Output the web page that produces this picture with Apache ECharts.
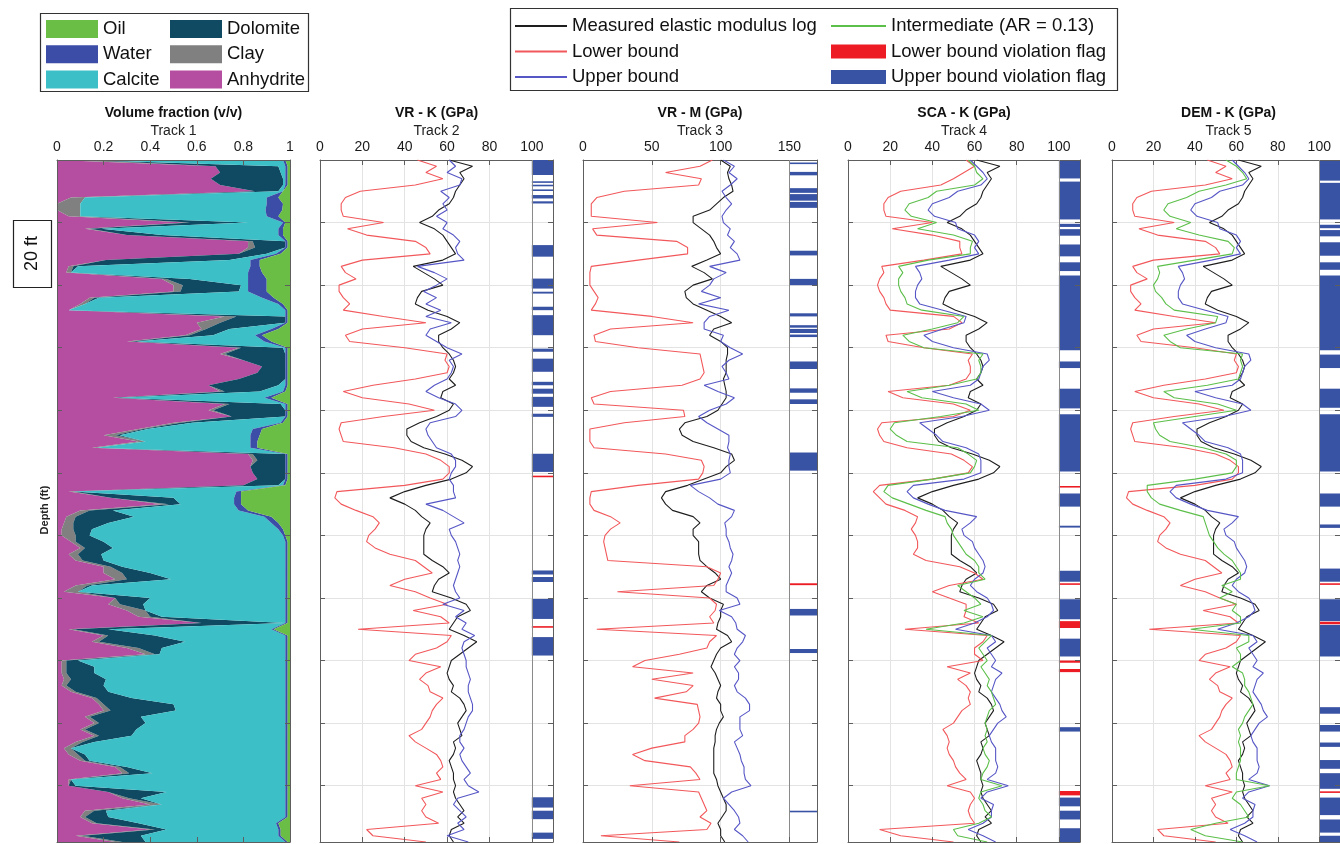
<!DOCTYPE html>
<html>
<head>
<meta charset="utf-8">
<title>Elastic modulus bounds – well log tracks</title>
<script src="https://cdn.jsdelivr.net/npm/echarts@6.0.0/dist/echarts.min.js"></script>
<style>
  html, body { margin: 0; padding: 0; background: #ffffff; }
  #chart { width: 1340px; height: 844px; }
</style>
</head>
<body>
<div id="chart"></div>
<script>
// ---------------------------------------------------------------------------
// Depth samples (ft below the top of the logged interval), every 2 ft
// ---------------------------------------------------------------------------
const depths = [
  0, 2, 4, 6, 8, 10, 12, 14, 16, 18,
  20, 22, 24, 26, 28, 30, 32, 34, 36, 38,
  40, 42, 44, 46, 48, 50, 52, 54, 56, 58,
  60, 62, 64, 66, 68, 70, 72, 74, 76, 78,
  80, 82, 84, 86, 88, 90, 92, 94, 96, 98,
  100, 102, 104, 106, 108, 110, 112, 114, 116, 118,
  120, 122, 124, 126, 128, 130, 132, 134, 136, 138,
  140, 142, 144, 146, 148, 150, 152, 154, 156, 158,
  160, 162, 164, 166, 168, 170, 172, 174, 176, 178,
  180, 182, 184, 186, 188, 190, 192, 194, 196, 198,
  200, 202, 204, 206, 208, 210, 212, 214, 216, 218
];

// ---------------------------------------------------------------------------
// Track 1 – volume fractions (v/v)
// ---------------------------------------------------------------------------
const anhydrite = [
  0.00, 0.68, 0.70, 0.66, 0.70, 0.85, 0.06, 0.00, 0.00, 0.05,
  0.55, 0.12, 0.30, 0.82, 0.82, 0.78, 0.21, 0.05, 0.04, 0.45,
  0.50, 0.50, 0.14, 0.10, 0.05, 0.72, 0.60, 0.62, 0.55, 0.30,
  0.78, 0.70, 0.80, 0.88, 0.86, 0.78, 0.65, 0.70, 0.24, 0.72,
  0.65, 0.75, 0.50, 0.35, 0.20, 0.35, 0.15, 0.82, 0.84, 0.83,
  0.84, 0.86, 0.80, 0.05, 0.23, 0.45, 0.10, 0.04, 0.03, 0.02,
  0.02, 0.06, 0.10, 0.05, 0.08, 0.20, 0.20, 0.25, 0.08, 0.03,
  0.25, 0.22, 0.30, 0.35, 0.62, 0.05, 0.20, 0.15, 0.30, 0.38,
  0.02, 0.02, 0.02, 0.03, 0.02, 0.06, 0.15, 0.18, 0.20, 0.12,
  0.16, 0.10, 0.16, 0.08, 0.03, 0.05, 0.10, 0.25, 0.28, 0.05,
  0.05, 0.22, 0.28, 0.40, 0.12, 0.10, 0.15, 0.40, 0.08, 0.25
];
const clay = [
  0.12, 0.00, 0.00, 0.00, 0.00, 0.00, 0.06, 0.10, 0.10, 0.05,
  0.02, 0.02, 0.00, 0.02, 0.03, 0.00, 0.00, 0.02, 0.02, 0.02,
  0.04, 0.03, 0.02, 0.02, 0.00, 0.05, 0.10, 0.02, 0.02, 0.02,
  0.01, 0.02, 0.00, 0.00, 0.00, 0.00, 0.00, 0.02, 0.01, 0.02,
  0.02, 0.00, 0.03, 0.02, 0.05, 0.03, 0.02, 0.02, 0.02, 0.00,
  0.00, 0.00, 0.00, 0.02, 0.00, 0.03, 0.04, 0.04, 0.04, 0.05,
  0.06, 0.02, 0.02, 0.04, 0.03, 0.03, 0.08, 0.05, 0.05, 0.06,
  0.00, 0.05, 0.08, 0.05, 0.00, 0.02, 0.02, 0.03, 0.05, 0.04,
  0.02, 0.02, 0.02, 0.03, 0.02, 0.02, 0.02, 0.02, 0.03, 0.02,
  0.02, 0.02, 0.02, 0.03, 0.03, 0.04, 0.02, 0.02, 0.03, 0.01,
  0.00, 0.00, 0.03, 0.05, 0.04, 0.02, 0.02, 0.02, 0.03, 0.03
];
const dolomite = [
  0.00, 0.27, 0.26, 0.31, 0.27, 0.10, 0.00, 0.00, 0.00, 0.00,
  0.25, 0.05, 0.15, 0.14, 0.13, 0.12, 0.53, 0.02, 0.00, 0.10,
  0.25, 0.25, 0.02, 0.00, 0.00, 0.21, 0.28, 0.10, 0.10, 0.02,
  0.18, 0.26, 0.18, 0.10, 0.12, 0.20, 0.30, 0.15, 0.02, 0.22,
  0.31, 0.23, 0.05, 0.02, 0.02, 0.00, 0.00, 0.14, 0.12, 0.15,
  0.14, 0.12, 0.15, 0.00, 0.27, 0.05, 0.10, 0.25, 0.15, 0.08,
  0.06, 0.12, 0.12, 0.10, 0.09, 0.05, 0.12, 0.19, 0.02, 0.00,
  0.15, 0.10, 0.00, 0.05, 0.36, 0.15, 0.20, 0.37, 0.10, 0.02,
  0.05, 0.12, 0.12, 0.15, 0.16, 0.14, 0.15, 0.30, 0.28, 0.22,
  0.20, 0.22, 0.14, 0.05, 0.00, 0.03, 0.02, 0.03, 0.10, 0.00,
  0.03, 0.25, 0.05, 0.00, 0.05, 0.10, 0.18, 0.05, 0.25, 0.10
];
const calcite = [
  0.85, 0.03, 0.02, 0.01, 0.01, 0.02, 0.78, 0.80, 0.795, 0.80,
  0.15, 0.76, 0.50, 0.00, 0.00, 0.04, 0.09, 0.74, 0.76, 0.25,
  0.03, 0.04, 0.70, 0.83, 0.93, 0.00, 0.00, 0.18, 0.18, 0.55,
  0.01, 0.00, 0.00, 0.00, 0.00, 0.00, 0.03, 0.10, 0.62, 0.02,
  0.00, 0.00, 0.38, 0.45, 0.56, 0.45, 0.66, 0.00, 0.00, 0.00,
  0.00, 0.00, 0.02, 0.70, 0.26, 0.23, 0.54, 0.56, 0.70, 0.80,
  0.83, 0.78, 0.74, 0.79, 0.78, 0.70, 0.58, 0.49, 0.83, 0.89,
  0.58, 0.61, 0.60, 0.53, 0.00, 0.70, 0.56, 0.43, 0.53, 0.54,
  0.89, 0.82, 0.82, 0.77, 0.78, 0.76, 0.66, 0.48, 0.47, 0.62,
  0.60, 0.64, 0.66, 0.82, 0.92, 0.86, 0.84, 0.68, 0.57, 0.92,
  0.90, 0.51, 0.62, 0.53, 0.77, 0.76, 0.59, 0.48, 0.59, 0.60
];
const water = [
  0.01, 0.01, 0.01, 0.01, 0.01, 0.00, 0.05, 0.07, 0.072, 0.05,
  0.01, 0.02, 0.02, 0.01, 0.01, 0.02, 0.04, 0.04, 0.06, 0.08,
  0.08, 0.08, 0.05, 0.02, 0.01, 0.01, 0.01, 0.03, 0.03, 0.03,
  0.01, 0.01, 0.01, 0.01, 0.01, 0.01, 0.01, 0.01, 0.03, 0.01,
  0.01, 0.01, 0.01, 0.04, 0.04, 0.03, 0.03, 0.01, 0.01, 0.01,
  0.01, 0.01, 0.01, 0.02, 0.03, 0.03, 0.04, 0.03, 0.03, 0.02,
  0.01, 0.01, 0.01, 0.01, 0.01, 0.01, 0.01, 0.01, 0.01, 0.01,
  0.01, 0.01, 0.01, 0.01, 0.01, 0.01, 0.01, 0.01, 0.01, 0.01,
  0.01, 0.01, 0.01, 0.01, 0.01, 0.01, 0.01, 0.01, 0.01, 0.01,
  0.01, 0.01, 0.01, 0.01, 0.01, 0.01, 0.01, 0.01, 0.01, 0.01,
  0.01, 0.01, 0.01, 0.01, 0.01, 0.01, 0.01, 0.01, 0.01, 0.01
];
const oil = [
  0.02, 0.01, 0.01, 0.01, 0.01, 0.03, 0.05, 0.03, 0.033, 0.05,
  0.02, 0.03, 0.03, 0.01, 0.01, 0.04, 0.13, 0.13, 0.12, 0.10,
  0.10, 0.10, 0.07, 0.03, 0.01, 0.01, 0.01, 0.05, 0.12, 0.08,
  0.01, 0.01, 0.01, 0.01, 0.01, 0.01, 0.01, 0.02, 0.08, 0.01,
  0.01, 0.01, 0.03, 0.12, 0.13, 0.14, 0.14, 0.01, 0.01, 0.01,
  0.01, 0.01, 0.02, 0.21, 0.21, 0.21, 0.18, 0.08, 0.05, 0.03,
  0.02, 0.01, 0.01, 0.01, 0.01, 0.01, 0.01, 0.01, 0.01, 0.01,
  0.01, 0.01, 0.01, 0.01, 0.01, 0.07, 0.01, 0.01, 0.01, 0.01,
  0.01, 0.01, 0.01, 0.01, 0.01, 0.01, 0.01, 0.01, 0.01, 0.01,
  0.01, 0.01, 0.01, 0.01, 0.01, 0.01, 0.01, 0.01, 0.01, 0.01,
  0.01, 0.01, 0.01, 0.01, 0.01, 0.01, 0.05, 0.04, 0.04, 0.01
];

// ---------------------------------------------------------------------------
// Bulk modulus K (GPa)
// ---------------------------------------------------------------------------
const kMeasured = [
  61, 72, 66, 68, 66, 64, 63, 61, 56, 53,
  47, 54, 58, 60, 62, 64, 58, 44, 49, 54,
  58, 48, 46, 45, 51, 60, 66, 62, 56, 56,
  58, 61, 63, 64, 63, 61, 64, 58, 57, 63,
  61, 55, 47, 41, 41, 43, 49, 59, 67, 72,
  69, 62, 50, 40, 33, 40, 45, 48, 52, 50,
  49, 49, 49, 49, 53, 58, 61, 56, 54, 53,
  62, 69, 71, 65, 63, 61, 68, 74, 70, 66,
  62, 61, 60, 61, 63, 62, 66, 68, 69, 67,
  65, 66, 67, 63, 64, 63, 61, 62, 63, 63,
  64, 63, 64, 66, 68, 65, 68, 62, 61, 63
];
// Voigt-Reuss lower bound (Tracks 2 and 5)
const kReuss = [
  46, 55, 50, 58, 45, 19, 12, 10, 10, 11,
  30, 13, 22, 45, 50, 52, 20, 10, 12, 17,
  9, 9, 11, 14, 11, 30, 50, 20, 12, 14,
  40, 60, 59, 61, 60, 45, 25, 11, 20, 42,
  54, 30, 10, 9, 10, 11, 35, 50, 57, 61,
  61, 58, 40, 8, 7, 10, 17, 25, 28, 26,
  23, 22, 26, 33, 45, 49, 53, 40, 33, 45,
  52, 60, 44, 57, 61, 18, 62, 60, 55, 45,
  42, 57, 50, 47, 51, 52, 58, 55, 53, 52,
  50, 48, 42, 45, 50, 55, 57, 58, 55, 57,
  45, 58, 48, 50, 48, 50, 56, 22, 25, 50
];
// Voigt-Reuss upper bound (Track 2)
const kVoigt = [
  61, 64, 60, 67, 66, 57, 61, 58, 60, 55,
  60, 58, 63, 66, 64, 65, 68, 46, 54, 60,
  55, 49, 55, 50, 57, 50, 62, 52, 50, 55,
  60, 67, 61, 63, 62, 60, 54, 50, 56, 64,
  67, 64, 52, 50, 51, 53, 55, 62, 64, 64,
  62, 61, 63, 63, 64, 50, 58, 63, 68, 61,
  62, 64, 65, 66, 65, 66, 65, 64, 63, 64,
  66, 58, 68, 64, 69, 67, 73, 68, 67, 68,
  69, 69, 70, 71, 70, 70, 71, 72, 72, 70,
  69, 68, 66, 66, 68, 66, 67, 69, 71, 68,
  70, 75, 65, 63, 66, 69, 65, 68, 60, 70
];
// Lower bound used with the SCA model (Track 4)
const kLowerSCA = [
  56, 60, 55, 50, 44, 25, 19, 17, 17, 18,
  40, 21, 40, 53, 53, 54, 36, 16, 17, 15,
  14, 15, 17, 18, 20, 50, 54, 48, 18, 19,
  36, 59, 57, 58, 58, 56, 48, 19, 26, 50,
  58, 50, 16, 14, 15, 17, 28, 49, 55, 59,
  57, 40, 15, 12, 15, 18, 27, 33, 32, 30,
  32, 33, 33, 31, 37, 53, 60, 64, 48, 40,
  48, 56, 56, 55, 62, 27, 66, 64, 60, 60,
  64, 47, 58, 52, 56, 58, 57, 58, 54, 52,
  50, 45, 47, 48, 47, 48, 50, 51, 53, 56,
  47, 58, 60, 58, 57, 58, 60, 15, 25, 50
];
// Upper bound used with the SCA and DEM models (Tracks 4 and 5)
const kUpperInclusion = [
  58, 61, 64, 66, 63, 52, 48, 40, 38, 41,
  51, 52, 60, 62, 60, 62, 48, 32, 34, 35,
  33, 32, 32, 34, 45, 56, 55, 45, 36, 40,
  50, 66, 67, 64, 63, 62, 58, 40, 50, 63,
  67, 54, 34, 38, 42, 45, 56, 62, 63, 63,
  63, 55, 31, 28, 31, 38, 46, 61, 58, 54,
  55, 59, 60, 62, 64, 65, 64, 60, 58, 61,
  66, 68, 69, 66, 60, 51, 68, 70, 66, 68,
  70, 68, 73, 70, 69, 68, 70, 72, 73, 75,
  71, 69, 67, 68, 70, 70, 70, 71, 70, 66,
  76, 66, 63, 69, 68, 68, 64, 57, 64, 70
];
// Intermediate (AR = 0.13) predictions
const kSCA = [
  57, 60, 61, 64, 60, 42, 38, 29, 27, 30,
  42, 33, 50, 59, 58, 58, 38, 24, 26, 24,
  24, 25, 27, 28, 35, 55, 52, 40, 26, 29,
  36, 64, 62, 63, 63, 61, 48, 28, 35, 56,
  62, 44, 22, 20, 23, 28, 52, 57, 61, 60,
  58, 40, 19, 17, 21, 29, 37, 46, 47, 49,
  50, 52, 54, 56, 60, 62, 62, 65, 52, 56,
  60, 63, 55, 64, 55, 37, 68, 65, 62, 64,
  66, 63, 65, 67, 66, 68, 69, 70, 67, 66,
  65, 66, 65, 66, 64, 65, 67, 66, 64, 63,
  73, 63, 62, 64, 65, 68, 62, 50, 52, 66
];
const kDEM = [
  55, 60, 63, 65, 55, 42, 36, 27, 25, 28,
  38, 31, 42, 56, 59, 58, 40, 22, 23, 22,
  20, 21, 24, 26, 30, 51, 50, 36, 25, 28,
  33, 63, 62, 63, 62, 61, 46, 25, 30, 51,
  60, 40, 20, 21, 23, 28, 44, 55, 60, 60,
  58, 40, 17, 17, 19, 23, 33, 44, 45, 46,
  47, 49, 51, 54, 58, 60, 62, 62, 53, 58,
  52, 60, 58, 62, 62, 38, 66, 66, 60, 62,
  62, 58, 63, 64, 64, 66, 67, 68, 66, 64,
  63, 61, 62, 61, 62, 62, 62, 61, 60, 60,
  76, 60, 58, 62, 64, 66, 50, 38, 45, 63
];

// ---------------------------------------------------------------------------
// Modulus M (GPa), Track 3
// ---------------------------------------------------------------------------
const mMeasured = [
  100, 107, 105, 106, 108, 109, 102, 97, 92, 80,
  80, 86, 92, 95, 97, 100, 90, 79, 88, 94,
  80, 74, 75, 80, 90, 100, 108, 95, 92, 100,
  105, 105, 104, 104, 104, 102, 103, 104, 104, 101,
  98, 90, 74, 70, 72, 80, 95, 108, 110, 104,
  100, 88, 76, 60, 57, 60, 65, 80, 85, 80,
  80, 84, 84, 84, 85, 90, 96, 100, 90, 86,
  92, 102, 100, 100, 98, 97, 105, 108, 100, 97,
  95, 93, 96, 98, 100, 98, 97, 100, 100, 102,
  99, 97, 96, 96, 95, 95, 95, 95, 95, 97,
  98, 100, 102, 104, 104, 101, 98, 100, 100, 103
];
const mReuss = [
  94, 85, 60, 86, 84, 30, 10, 6, 6, 6,
  54, 7, 10, 68, 76, 76, 40, 6, 5, 5,
  5, 8, 11, 9, 6, 50, 80, 20, 8, 9,
  40, 85, 86, 87, 88, 85, 72, 20, 6, 8,
  73, 74, 30, 5, 5, 5, 8, 60, 86, 88,
  87, 84, 40, 6, 5, 5, 8, 20, 27, 20,
  16, 15, 16, 17, 18, 90, 100, 98, 95, 25,
  92, 97, 96, 92, 95, 10, 97, 92, 90, 70,
  45, 36, 80, 50, 80, 75, 52, 83, 84, 85,
  84, 80, 74, 74, 50, 36, 45, 78, 82, 85,
  34, 84, 86, 88, 90, 85, 93, 90, 13, 70
];
const mVoigt = [
  102, 110, 106, 112, 107, 101, 104, 108, 104, 101,
  102, 107, 105, 110, 107, 112, 114, 92, 104, 95,
  92, 86, 100, 84, 106, 92, 88, 88, 102, 100,
  107, 116, 106, 101, 104, 106, 88, 98, 110, 104,
  92, 84, 90, 98, 106, 106, 105, 107, 106, 106,
  107, 100, 78, 84, 92, 98, 110, 108, 103, 104,
  104, 106, 107, 109, 108, 106, 108, 106, 104, 104,
  112, 114, 99, 108, 111, 112, 118, 116, 112, 110,
  114, 110, 113, 113, 110, 112, 118, 121, 121, 114,
  114, 114, 116, 110, 112, 114, 115, 117, 117, 118,
  122, 108, 102, 106, 110, 113, 114, 110, 116, 120
];

// ---------------------------------------------------------------------------
// Bound-violation flags: [top depth, bottom depth] in ft
// ---------------------------------------------------------------------------
const upperFlagsT2 = [
  [0, 4.8], [6.8, 7.3], [7.9, 8.4], [9.4, 9.9], [11.2, 12.3], [13.2, 13.9],
  [27.2, 30.9], [37.9, 41.1], [42.1, 42.7], [46.9, 48], [49.6, 56],
  [60.3, 61.3], [63.5, 67.7], [70.9, 72], [73.1, 74.7], [75.7, 78.9],
  [81.1, 82.1], [93.9, 99.7], [131.2, 132.5], [133.3, 134.9],
  [140.3, 146.7], [152.5, 158.4], [203.7, 207], [208, 210.7], [215, 217]
];
const lowerFlagsT2 = [[100.9, 101.3], [149, 149.4]];

const upperFlagsT3 = [
  [0.8, 1.3], [3.8, 4.9], [9, 10.5], [10.9, 13], [13.4, 15.3], [29, 30.5],
  [38, 40], [49, 50], [52.8, 53.6], [54, 55.3], [55.8, 56.6], [64.4, 66.8],
  [73, 74.4], [76.5, 78], [93.5, 99.3], [143.5, 145.6], [156.3, 157.6],
  [208, 208.5]
];
const lowerFlagsT3 = [[135.3, 135.9]];

const upperFlagsT4 = [
  [0.3, 5.9], [6.9, 19], [20.4, 21.4], [22.1, 24.2], [27, 30.8], [32.7, 35.5],
  [36.9, 60.8], [64.4, 66.5], [73.1, 79.4], [81.3, 99.6], [106.6, 110.8],
  [116.9, 117.5], [131.3, 134.8], [140.4, 146.8], [153, 158.7],
  [181.3, 182.7], [203.8, 206.6], [208, 210.8], [213.6, 218]
];
const lowerFlagsT4 = [
  [104.2, 104.7], [135.3, 135.8], [147.4, 149.6], [160, 160.7],
  [162.7, 163.7], [201.7, 203.1]
];

const upperFlagsT5 = [
  [0.3, 6.6], [7.3, 19], [20.7, 21.8], [22.4, 24.4], [26.3, 30.6], [32.7, 35.1],
  [36.9, 60.8], [62.2, 66.5], [73.1, 79.2], [81.3, 99.6], [106.6, 110.8],
  [116.5, 117.6], [130.6, 134.8], [140.4, 147.4], [148.6, 158.7],
  [174.9, 177], [180.6, 182.7], [186.2, 187.6], [191.8, 194.6], [196, 201],
  [203.8, 209.4], [210.8, 215], [216, 218]
];
const lowerFlagsT5 = [[135.3, 135.7], [147.6, 148.4], [201.8, 202.2]];

// ---------------------------------------------------------------------------
// Names, colours, layout
// ---------------------------------------------------------------------------
const FONT = '"Liberation Sans", Arial, Helvetica, sans-serif';
const FRAME = '#5e5e5e';
const GRID = '#e3e3e3';

const N_MEAS = 'Measured elastic modulus log';
const N_LOW = 'Lower bound';
const N_UP = 'Upper bound';
const N_MID = 'Intermediate (AR = 0.13)';
const N_LFLAG = 'Lower bound violation flag';
const N_UFLAG = 'Upper bound violation flag';

const C = {
  oil: '#6abd45', water: '#3b4da6', calcite: '#3cbfc7', dolomite: '#0f4a62',
  clay: '#808080', anhydrite: '#b54ea0',
  meas: '#1e1e1e', low: '#f2585b', up: '#5656c6', mid: '#5cbf4a',
  lflag: '#ed1c24', uflag: '#3953a4'
};

const DEPTH_MIN = 0, DEPTH_MAX = 218, DEPTH_STEP = 20;

const tracks = [
  { title: 'Volume fraction (v/v)', sub: 'Track 1', left: 57,   width: 233, min: 0, max: 1,   interval: 0.2 },
  { title: 'VR - K (GPa)',          sub: 'Track 2', left: 320,  width: 233, min: 0, max: 110, interval: 20, flag: [100, 110] },
  { title: 'VR - M (GPa)',          sub: 'Track 3', left: 583,  width: 234, min: 0, max: 170, interval: 50, flag: [150, 170] },
  { title: 'SCA - K (GPa)',         sub: 'Track 4', left: 848,  width: 232, min: 0, max: 110, interval: 20, flag: [100, 110] },
  { title: 'DEM - K (GPa)',         sub: 'Track 5', left: 1112, width: 233, min: 0, max: 110, interval: 20, flag: [100, 110] }
];

const grids = [], xAxes = [], yAxes = [], series = [], titles = [];
const axisRefs = [];   // per track: { x, y, yCat }

tracks.forEach((t, i) => {
  grids.push({ left: t.left, top: 160, width: t.width, height: 682, containLabel: false });
  const isFraction = i === 0;
  const frontZ = 5;
  const xIdx = xAxes.length;
  xAxes.push({
    gridIndex: i, type: 'value', position: 'top', min: t.min, max: t.max, interval: t.interval,
    z: isFraction ? frontZ : 0,
    axisLine: { show: true, onZero: false, lineStyle: { color: FRAME, width: 1 } },
    axisTick: { show: true, inside: true, length: 5, lineStyle: { color: FRAME } },
    axisLabel: { show: true, margin: 6, fontSize: 14, fontFamily: FONT, color: '#1a1a1a',
                 showMaxLabel: isFraction ? true : false, showMinLabel: true },
    splitLine: { show: !isFraction, lineStyle: { color: GRID, width: 1 } }
  });
  xAxes.push({
    gridIndex: i, type: 'value', position: 'bottom', min: t.min, max: t.max, interval: t.interval,
    z: frontZ,
    axisLine: { show: true, onZero: false, lineStyle: { color: FRAME, width: 1 } },
    axisTick: { show: true, inside: true, length: 5, lineStyle: { color: FRAME } },
    axisLabel: { show: false }, splitLine: { show: false }
  });
  const yIdx = yAxes.length;
  yAxes.push({
    gridIndex: i, type: 'value', position: 'left', inverse: true,
    min: DEPTH_MIN, max: DEPTH_MAX, interval: DEPTH_STEP,
    z: isFraction ? frontZ : 0,
    axisLine: { show: true, onZero: false, lineStyle: { color: FRAME, width: 1 } },
    axisTick: { show: true, inside: true, length: 5, lineStyle: { color: FRAME } },
    axisLabel: { show: false },
    splitLine: { show: !isFraction, lineStyle: { color: GRID, width: 1 } }
  });
  yAxes.push({
    gridIndex: i, type: 'value', position: 'right', inverse: true,
    min: DEPTH_MIN, max: DEPTH_MAX, interval: DEPTH_STEP, z: frontZ,
    axisLine: { show: true, onZero: false, lineStyle: { color: FRAME, width: 1 } },
    axisTick: { show: true, inside: true, length: 5, lineStyle: { color: FRAME } },
    axisLabel: { show: false }, splitLine: { show: false }
  });
  let yCat = null;
  if (isFraction) {
    yCat = yAxes.length;
    yAxes.push({
      gridIndex: i, type: 'category', show: false, inverse: true, boundaryGap: false,
      data: depths.map(String)
    });
  }
  axisRefs.push({ x: xIdx, y: yIdx, yCat });

  titles.push({
    text: t.title, subtext: t.sub,
    left: t.left + t.width / 2, top: 106, textAlign: 'center',
    itemGap: 4, padding: 0,
    textStyle: { fontFamily: FONT, fontSize: 14, fontWeight: 'bold', color: '#111', lineHeight: 14 },
    subtextStyle: { fontFamily: FONT, fontSize: 14, color: '#222', lineHeight: 14 }
  });
});

// Track 1: stacked volume fractions, filled left to right
const fractionLayers = [
  ['Anhydrite', anhydrite, C.anhydrite],
  ['Clay', clay, C.clay],
  ['Dolomite', dolomite, C.dolomite],
  ['Calcite', calcite, C.calcite],
  ['Water', water, C.water],
  ['Oil', oil, C.oil]
];
fractionLayers.forEach(([name, values, color]) => {
  series.push({
    name, type: 'line', stack: 'volume',
    xAxisIndex: axisRefs[0].x, yAxisIndex: axisRefs[0].yCat,
    data: values, symbol: 'none', smooth: false,
    lineStyle: { width: 0, color }, itemStyle: { color },
    areaStyle: { color, opacity: 1 }, z: 2
  });
});

// Log curves: value along x, depth along y
const curve = (values) => depths.map((d, k) => [values[k], d]);
function addCurve(trackIdx, name, values, color, width) {
  series.push({
    name, type: 'line',
    xAxisIndex: axisRefs[trackIdx].x, yAxisIndex: axisRefs[trackIdx].y,
    data: curve(values), symbol: 'none', smooth: false, clip: true,
    lineStyle: { color, width: width || 1.1 }, itemStyle: { color }, z: 3
  });
}

// Flag column drawn in the spare range at the right of each modulus track
function addFlags(trackIdx, name, intervals, color, withEdge) {
  const [fx0, fx1] = tracks[trackIdx].flag;
  const s = {
    name, type: 'custom',
    xAxisIndex: axisRefs[trackIdx].x, yAxisIndex: axisRefs[trackIdx].y,
    data: intervals, encode: { y: [0, 1] },
    itemStyle: { color }, z: 4,
    renderItem: (params, api) => {
      const a = api.coord([fx0, api.value(0)]);
      const b = api.coord([fx1, api.value(1)]);
      return {
        type: 'rect',
        shape: { x: a[0], y: a[1], width: b[0] - a[0], height: Math.max(b[1] - a[1], 1.6) },
        style: { fill: api.visual('color') }
      };
    }
  };
  if (withEdge) {
    s.markLine = {
      silent: true, symbol: 'none', label: { show: false },
      lineStyle: { color: '#8a8a8a', type: 'solid', width: 1 },
      data: [{ xAxis: fx0 }]
    };
  }
  series.push(s);
}

// Track 2
addCurve(1, N_MEAS, kMeasured, C.meas);
addCurve(1, N_LOW, kReuss, C.low);
addCurve(1, N_UP, kVoigt, C.up);
addFlags(1, N_UFLAG, upperFlagsT2, C.uflag, true);
addFlags(1, N_LFLAG, lowerFlagsT2, C.lflag, false);
// Track 3
addCurve(2, N_MEAS, mMeasured, C.meas);
addCurve(2, N_LOW, mReuss, C.low);
addCurve(2, N_UP, mVoigt, C.up);
addFlags(2, N_UFLAG, upperFlagsT3, C.uflag, true);
addFlags(2, N_LFLAG, lowerFlagsT3, C.lflag, false);
// Track 4
addCurve(3, N_MEAS, kMeasured, C.meas);
addCurve(3, N_LOW, kLowerSCA, C.low);
addCurve(3, N_UP, kUpperInclusion, C.up);
addCurve(3, N_MID, kSCA, C.mid);
addFlags(3, N_UFLAG, upperFlagsT4, C.uflag, true);
addFlags(3, N_LFLAG, lowerFlagsT4, C.lflag, false);
// Track 5
addCurve(4, N_MEAS, kMeasured, C.meas);
addCurve(4, N_LOW, kReuss, C.low);
addCurve(4, N_UP, kUpperInclusion, C.up);
addCurve(4, N_MID, kDEM, C.mid);
addFlags(4, N_UFLAG, upperFlagsT5, C.uflag, true);
addFlags(4, N_LFLAG, lowerFlagsT5, C.lflag, false);

// Legends (line entries show the plain line only, no marker)
const lineEntry = (name) => ({ name, itemStyle: { opacity: 0 } });
const legendText = { fontFamily: FONT, fontSize: 18.5, color: '#111', lineHeight: 20 };
const baseLegend = { orient: 'vertical', padding: 0, selectedMode: false, textStyle: legendText };
const legends = [
  Object.assign({}, baseLegend, { left: 46, top: 19, itemWidth: 52, itemHeight: 18, itemGap: 5.3,
    data: ['Oil', 'Water', 'Calcite'].map(n => ({ name: n, icon: 'rect' })) }),
  Object.assign({}, baseLegend, { left: 170, top: 19, itemWidth: 52, itemHeight: 18, itemGap: 5.3,
    data: ['Dolomite', 'Clay', 'Anhydrite'].map(n => ({ name: n, icon: 'rect' })) }),
  Object.assign({}, baseLegend, { left: 514, top: 16, itemWidth: 52, itemHeight: 14, itemGap: 5.5,
    data: [lineEntry(N_MEAS), lineEntry(N_LOW), lineEntry(N_UP)] }),
  Object.assign({}, baseLegend, { left: 830, top: 16, itemWidth: 55, itemHeight: 14, itemGap: 5.5,
    data: [lineEntry(N_MID), { name: N_LFLAG, icon: 'rect' }, { name: N_UFLAG, icon: 'rect' }] })
];

const chart = echarts.init(document.getElementById('chart'), null, { renderer: 'canvas' });
chart.setOption({
  backgroundColor: '#ffffff',
  animation: false,
  textStyle: { fontFamily: FONT },
  title: titles,
  legend: legends,
  grid: grids,
  xAxis: xAxes,
  yAxis: yAxes,
  series
});

// Legend frames, depth label and the 20 ft scale marker
const scaleTop = chart.convertToPixel({ yAxisIndex: axisRefs[0].y }, 19.2);
const scaleBottom = chart.convertToPixel({ yAxisIndex: axisRefs[0].y }, 40.6);
chart.setOption({
  graphic: [
    { type: 'rect', z: 10, silent: true, shape: { x: 40.5, y: 13.5, width: 268, height: 78 },
      style: { fill: 'none', stroke: '#333', lineWidth: 1.2 } },
    { type: 'rect', z: 10, silent: true, shape: { x: 510.5, y: 8.5, width: 607, height: 82 },
      style: { fill: 'none', stroke: '#333', lineWidth: 1.2 } },
    { type: 'text', z: 10, silent: true, x: 45, y: 510, rotation: Math.PI / 2,
      style: { text: 'Depth (ft)', x: 0, y: 0, align: 'center', verticalAlign: 'middle',
               fontFamily: FONT, fontSize: 11, fontWeight: 'bold', fill: '#222' } },
    { type: 'rect', z: 10, silent: true,
      shape: { x: 13.5, y: Math.round(scaleTop) + 0.5, width: 38, height: Math.round(scaleBottom - scaleTop) },
      style: { fill: '#fff', stroke: '#222', lineWidth: 1.2 } },
    { type: 'text', z: 11, silent: true, x: 32.5, y: (scaleTop + scaleBottom) / 2, rotation: Math.PI / 2,
      style: { text: '20 ft', x: 0, y: 0, align: 'center', verticalAlign: 'middle',
               fontFamily: FONT, fontSize: 18, fill: '#111' } }
  ]
});
</script>
</body>
</html>
